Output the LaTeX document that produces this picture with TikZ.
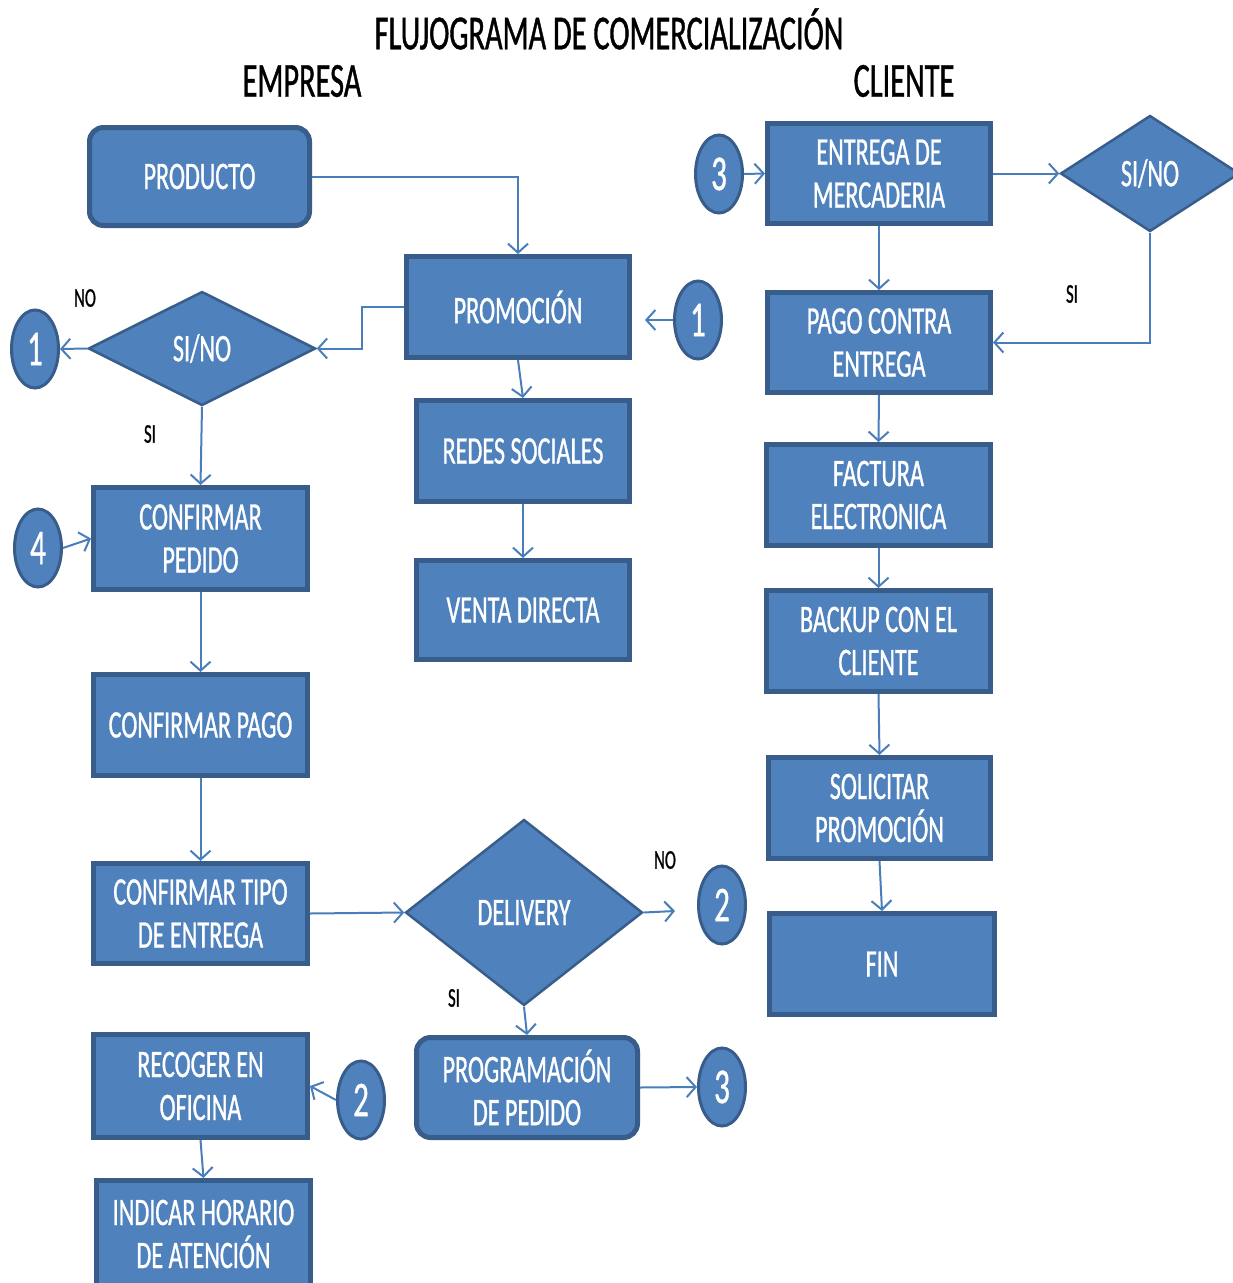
\documentclass[tikz,border=0pt]{standalone}
\usepackage{fontspec}
\setmainfont{Carlito}[FakeStretch=0.62,FakeBold=0.8]
\usetikzlibrary{arrows.meta,shapes.geometric}
\definecolor{fillblue}{HTML}{4F81BD}
\definecolor{edgeblue}{HTML}{385D8A}
\definecolor{lineblue}{HTML}{4A7EBB}
\tikzset{
  box/.style 2 args={rectangle, fill=fillblue, draw=edgeblue, line width=5pt,
    text=white, align=center, inner sep=0pt,
    minimum width=#1pt, minimum height=#2pt,
    font=\fontsize{39}{43}\selectfont},
  rbox/.style 2 args={box={#1}{#2}, rounded corners=14pt},
  dia/.style 2 args={diamond, fill=fillblue, draw=edgeblue, line width=2.5pt,
    text=white, align=center, inner sep=0pt,
    minimum width=#1pt, minimum height=#2pt,
    font=\fontsize{39}{43}\selectfont},
  conn/.style={ellipse, fill=fillblue, draw=edgeblue, line width=3pt,
    text=white, inner sep=0pt, minimum width=47pt, minimum height=78pt,
    font=\fontsize{50}{50}\selectfont},
  lbl/.style={text=black, inner sep=0pt, font=\fontsize{27}{27}\selectfont},
  head/.style={text=black, inner sep=0pt, font=\fontsize{49}{49}\selectfont},
  flow/.style={draw=lineblue, line width=2pt,
    -{Straight Barb[length=9pt,width=20pt,line width=2pt]}}
}
\begin{document}
\begin{tikzpicture}[x=1pt,y=-1pt]
\useasboundingbox[fill=white] (0,0) rectangle (1233,1283);
\begin{scope}
\clip (0,0) rectangle (1233,1283);
% headings
\node[head] (title) at (609,29) {FLUJOGRAMA DE COMERCIALIZACIÓN};
\node[head] (empresa) at (302,81) {EMPRESA};
\node[head] (cliente) at (904,81) {CLIENTE};

% left / middle column
\node[rbox={220}{98}] (producto) at (199.5,176.5) {PRODUCTO};
\node[box={223}{101}] (promocion) at (518,307) {PROMOCIÓN};
\node[box={213}{101}] (redes) at (523,451) {REDES SOCIALES};
\node[box={213}{99}] (venta) at (523,610) {VENTA DIRECTA};
\node[dia={227}{114}] (sino1) at (202,348.5) {SI/NO};
\node[conn] (c1l) at (35,349) {1};
\node[conn] (c1r) at (698,320) {1};
\node[lbl] (no1) at (85,298) {NO};
\node[lbl] (si1) at (150,434) {SI};
\node[box={214}{102}] (confped) at (200.5,538.5) {CONFIRMAR\\PEDIDO};
\node[conn] (c4) at (38,548) {4};
\node[box={214}{101}] (confpago) at (200.5,725) {CONFIRMAR PAGO};
\node[box={214}{100}] (tipo) at (200.5,913.5) {CONFIRMAR TIPO\\DE ENTREGA};
\node[dia={237}{186}] (delivery) at (524,912.5) {DELIVERY};
\node[lbl] (no2) at (665,860) {NO};
\node[conn] (c2r) at (722,905) {2};
\node[lbl] (si2) at (454,998) {SI};
\node[rbox={221}{100}] (prog) at (527,1087.5) {PROGRAMACIÓN\\DE PEDIDO};
\node[conn] (c3b) at (722,1087) {3};
\node[box={214}{103}] (recoger) at (200.5,1086) {RECOGER EN\\OFICINA};
\node[conn] (c2l) at (361,1100) {2};
\node[box={214}{107}] (indicar) at (203.5,1234) {INDICAR HORARIO\\DE ATENCIÓN};

% right column
\node[conn] (c3t) at (719,174) {3};
\node[box={223}{100}] (entrega) at (879,173.5) {ENTREGA DE\\MERCADERIA};
\node[dia={179}{116}] (sino2) at (1150,173.5) {SI/NO};
\node[lbl] (si3) at (1072,294) {SI};
\node[box={223}{100}] (pago) at (879,342.5) {PAGO CONTRA\\ENTREGA};
\node[box={224}{101}] (factura) at (878.5,495) {FACTURA\\ELECTRONICA};
\node[box={224}{101}] (backup) at (878.5,641) {BACKUP CON EL\\CLIENTE};
\node[box={222}{101}] (solicitar) at (879.5,808) {SOLICITAR\\PROMOCIÓN};
\node[box={225}{101}] (fin) at (882,964) {FIN};

\coordinate (c1rend) at (645,320);
\coordinate (delend) at (675,911);

% connectors
\draw[flow] (producto.east) -| (promocion.north);
\draw[flow] (promocion.west) -- (362,307) |- (sino1.east);
\draw[flow] (sino1.west) -- (c1l.east);
\draw[flow] (sino1.south) -- (confped.north);
\draw[flow] (c1r.west) -- (c1rend);
\draw[flow] (promocion.south) -- (redes.north);
\draw[flow] (redes.south) -- (venta.north);
\draw[flow] (c4.east) -- (confped.west);
\draw[flow] (confped.south) -- (confpago.north);
\draw[flow] (confpago.south) -- (tipo.north);
\draw[flow] (tipo.east) -- (delivery.west);
\draw[flow] (delivery.east) -- (delend);
\draw[flow] (delivery.south) -- (prog.north);
\draw[flow] (prog.east) -- (c3b.west);
\draw[flow] (c2l.west) -- (recoger.east);
\draw[flow] (recoger.south) -- (indicar.north);
\draw[flow] (c3t.east) -- (entrega.west);
\draw[flow] (entrega.east) -- (sino2.west);
\draw[flow] (entrega.south) -- (pago.north);
\draw[flow] (sino2.south) |- (pago.east);
\draw[flow] (pago.south) -- (factura.north);
\draw[flow] (factura.south) -- (backup.north);
\draw[flow] (backup.south) -- (solicitar.north);
\draw[flow] (solicitar.south) -- (fin.north);
\end{scope}
\end{tikzpicture}
\end{document}
